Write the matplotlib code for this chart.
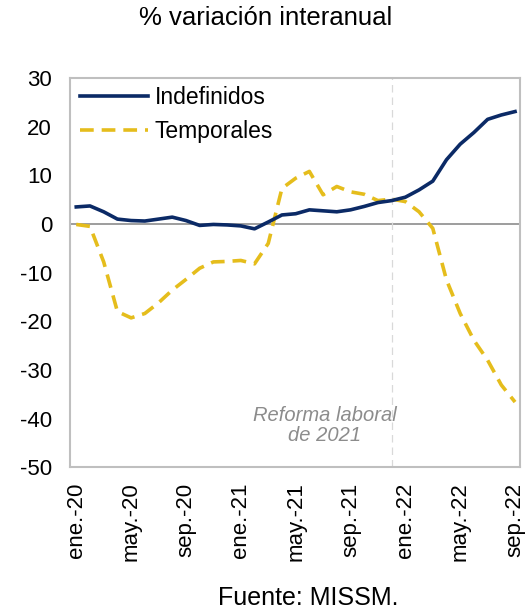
import numpy as np
import matplotlib.pyplot as plt

plt.rcParams['font.family'] = ['Liberation Sans', 'DejaVu Sans']
plt.rcParams['axes.unicode_minus'] = False

# monthly data ene-20 .. sep-22
meses = ['ene.-20', 'feb.-20', 'mar.-20', 'abr.-20', 'may.-20', 'jun.-20', 'jul.-20', 'ago.-20',
         'sep.-20', 'oct.-20', 'nov.-20', 'dic.-20', 'ene.-21', 'feb.-21', 'mar.-21', 'abr.-21',
         'may.-21', 'jun.-21', 'jul.-21', 'ago.-21', 'sep.-21', 'oct.-21', 'nov.-21', 'dic.-21',
         'ene.-22', 'feb.-22', 'mar.-22', 'abr.-22', 'may.-22', 'jun.-22', 'jul.-22', 'ago.-22',
         'sep.-22']

indefinidos = [3.5, 3.7, 2.5, 1.0, 0.7, 0.6, 1.0, 1.4, 0.7, -0.3, -0.1,
               -0.2, -0.4, -1.0, 0.4, 1.85, 2.1, 2.9, 2.7, 2.5, 2.9, 3.6, 4.4,
               4.8, 5.5, 7.0, 8.8, 13.2, 16.4, 18.8, 21.5, 22.4, 23.1]

temporales = [-0.1, -0.5, -7.8, -18.0, -19.3, -18.4, -16.2, -13.6, -11.4, -9.1, -7.8,
              -7.7, -7.5, -8.2, -4.0, 7.3, 9.4, 10.8, 6.0, 7.7, 6.6, 6.1, 4.8,
              5.1, 4.6, 2.5, -0.9, -11.5, -18.4, -23.9, -28.0, -33.1, -36.6]

reforma_idx = 23  # dic.-21

x = np.arange(len(meses))

fig = plt.figure(figsize=(5.31, 6.14), dpi=100)
ax = fig.add_axes([0.132, 0.239, 0.847, 0.634])

ax.axhline(0, color='#8c8c8c', lw=1.2, zorder=1)
ax.axvline(reforma_idx, color='#d9d9d9', lw=0.9, ls=(0, (6, 4)), zorder=1)

ax.plot(x, indefinidos, color='#0b2a66', lw=2.6, label='Indefinidos', zorder=3)
ax.plot(x, temporales, color='#e5bd1c', lw=2.6, ls=(0, (3.8, 2.2)), label='Temporales', zorder=2)

ax.set_xlim(-0.45, 32.35)
ax.set_ylim(-50, 30)
ax.set_yticks(np.arange(-50, 31, 10))
ax.set_xticks(x[::4])
ax.set_xticklabels(meses[::4], rotation=90)
ax.tick_params(axis='both', length=0, labelsize=16, colors='black')
ax.tick_params(axis='x', pad=11)
ax.tick_params(axis='y', pad=13)

for s in ax.spines.values():
    s.set_color('#bfbfbf')
    s.set_linewidth(1.5)

ax.legend(loc='upper left', bbox_to_anchor=(-0.013, 1.02), frameon=False, fontsize=16.5,
          handlelength=2.95, handletextpad=0.3, labelspacing=0.45, borderaxespad=0.3)

ax.text(18.1, -41.4, 'Reforma laboral\nde 2021', ha='center', va='center', fontsize=14.5,
        style='italic', color='#8c8c8c', linespacing=1.05)

fig.text(0.5, 0.970, '% variación interanual', ha='center', va='center', fontsize=18.5)
fig.text(0.58, 0.026, 'Fuente: MISSM.', ha='center', va='center', fontsize=18)

fig.savefig('out.png', dpi=100)
